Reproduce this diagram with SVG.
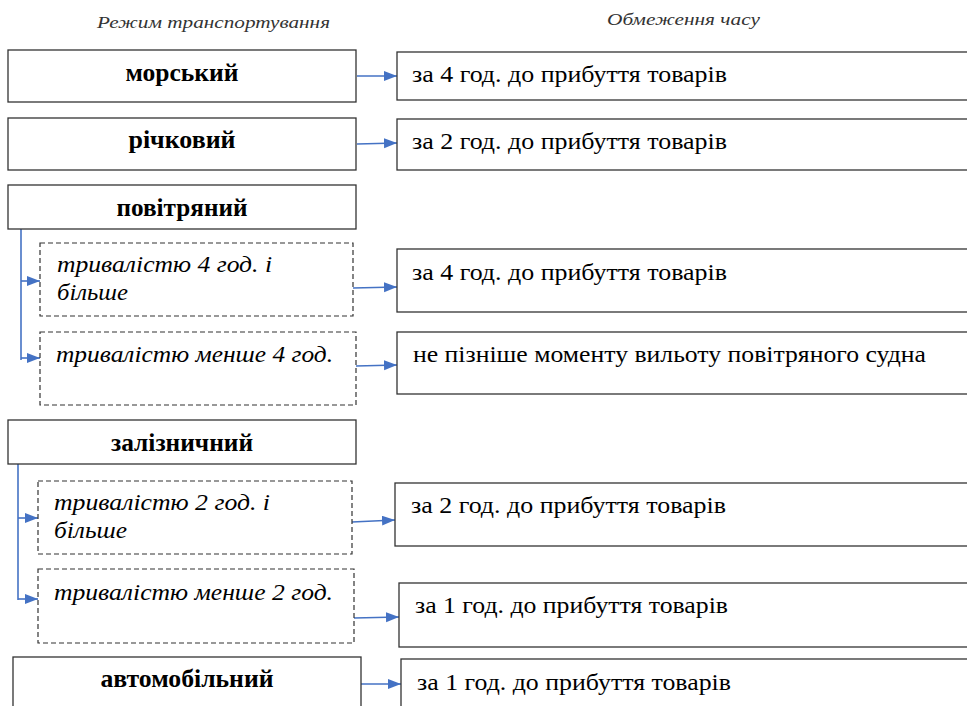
<svg xmlns="http://www.w3.org/2000/svg" width="967" height="706" viewBox="0 0 967 706">
<style>
.box{fill:#fff;stroke:#333;stroke-width:1.3}
.dbox{fill:#fff;stroke:#333;stroke-width:1.2;stroke-dasharray:5 3}
.b{font-family:'Liberation Serif','Times New Roman',serif;font-weight:bold;font-size:25px;fill:#000;text-anchor:middle}
.t{font-family:'Liberation Serif','Times New Roman',serif;font-size:23px;fill:#000}
.i{font-family:'Liberation Serif','Times New Roman',serif;font-style:italic;font-size:24px;fill:#000}
.h{font-family:'Liberation Serif','Times New Roman',serif;font-style:italic;font-size:17px;fill:#333}
.c{fill:none;stroke:#4472C4;stroke-width:1.6}
</style>
<defs>
<marker id="ah" markerUnits="userSpaceOnUse" markerWidth="14" markerHeight="12" refX="13" refY="5" orient="auto">
<path d="M0,0 L13,5 L0,10 Z" fill="#4472C4"/>
</marker>
</defs>
<rect width="967" height="706" fill="#fff"/>
<g id="headers">
<text class="h" x="97" y="28" textLength="233" lengthAdjust="spacingAndGlyphs">Режим транспортування</text>
<text class="h" x="607" y="25" textLength="153" lengthAdjust="spacingAndGlyphs">Обмеження часу</text>
</g>
<g id="connectors">
<line class="c" x1="357" y1="76" x2="397" y2="76" marker-end="url(#ah)"/>
<line class="c" x1="357" y1="144" x2="397" y2="143" marker-end="url(#ah)"/>
<polyline class="c" points="21,229 21,360"/>
<line class="c" x1="21" y1="281" x2="40" y2="281" marker-end="url(#ah)"/>
<line class="c" x1="21" y1="358" x2="40" y2="358" marker-end="url(#ah)"/>
<line class="c" x1="353" y1="288" x2="397" y2="287" marker-end="url(#ah)"/>
<line class="c" x1="356" y1="366" x2="397" y2="365" marker-end="url(#ah)"/>
<polyline class="c" points="18,464 18,600"/>
<line class="c" x1="18" y1="518" x2="38" y2="518" marker-end="url(#ah)"/>
<line class="c" x1="18" y1="599" x2="38" y2="599" marker-end="url(#ah)"/>
<line class="c" x1="352" y1="522" x2="395" y2="520" marker-end="url(#ah)"/>
<line class="c" x1="354" y1="618" x2="399" y2="617" marker-end="url(#ah)"/>
<line class="c" x1="361" y1="684" x2="401" y2="684" marker-end="url(#ah)"/>
</g>
<g id="n-morskyi"><rect class="box" x="8" y="50" width="348" height="52"/><text class="b" x="182" y="81" textLength="113" lengthAdjust="spacingAndGlyphs">морський</text></g>
<g id="n-richkovyi"><rect class="box" x="8" y="118" width="348" height="52"/><text class="b" x="182" y="148" textLength="107" lengthAdjust="spacingAndGlyphs">річковий</text></g>
<g id="n-povitrianyi"><rect class="box" x="8" y="185" width="348" height="44"/><text class="b" x="182" y="216" textLength="131" lengthAdjust="spacingAndGlyphs">повітряний</text></g>
<g id="n-air-4plus"><rect class="dbox" x="40" y="243" width="313" height="73"/><text class="i" x="57" y="272" textLength="215" lengthAdjust="spacingAndGlyphs">тривалістю 4 год. і</text><text class="i" x="57" y="300" textLength="71" lengthAdjust="spacingAndGlyphs">більше</text></g>
<g id="n-air-less4"><rect class="dbox" x="40" y="332" width="316" height="73"/><text class="i" x="56" y="362" textLength="277" lengthAdjust="spacingAndGlyphs">тривалістю менше 4 год.</text></g>
<g id="n-zaliznychnyi"><rect class="box" x="8" y="420" width="348" height="44"/><text class="b" x="182" y="451" textLength="142" lengthAdjust="spacingAndGlyphs">залізничний</text></g>
<g id="n-rail-2plus"><rect class="dbox" x="38" y="481" width="314" height="73"/><text class="i" x="54" y="510" textLength="216" lengthAdjust="spacingAndGlyphs">тривалістю 2 год. і</text><text class="i" x="54" y="538" textLength="73" lengthAdjust="spacingAndGlyphs">більше</text></g>
<g id="n-rail-less2"><rect class="dbox" x="38" y="569" width="316" height="74"/><text class="i" x="54" y="600" textLength="279" lengthAdjust="spacingAndGlyphs">тривалістю менше 2 год.</text></g>
<g id="n-avtomobilnyi"><rect class="box" x="13" y="657" width="348" height="60"/><text class="b" x="187" y="687" textLength="173" lengthAdjust="spacingAndGlyphs">автомобільний</text></g>
<g id="r1"><rect class="box" x="397" y="52" width="590" height="48"/><text class="t" x="412" y="82" textLength="315" lengthAdjust="spacingAndGlyphs">за 4 год. до прибуття товарів</text></g>
<g id="r2"><rect class="box" x="397" y="119" width="590" height="51"/><text class="t" x="412" y="149" textLength="315" lengthAdjust="spacingAndGlyphs">за 2 год. до прибуття товарів</text></g>
<g id="r3"><rect class="box" x="397" y="249" width="590" height="63"/><text class="t" x="412" y="280" textLength="315" lengthAdjust="spacingAndGlyphs">за 4 год. до прибуття товарів</text></g>
<g id="r4"><rect class="box" x="397" y="332" width="590" height="62"/><text class="t" x="413" y="362" textLength="513" lengthAdjust="spacingAndGlyphs">не пізніше моменту вильоту повітряного судна</text></g>
<g id="r5"><rect class="box" x="395" y="483" width="590" height="63"/><text class="t" x="411" y="513" textLength="315" lengthAdjust="spacingAndGlyphs">за 2 год. до прибуття товарів</text></g>
<g id="r6"><rect class="box" x="399" y="583" width="590" height="64"/><text class="t" x="415" y="613" textLength="313" lengthAdjust="spacingAndGlyphs">за 1 год. до прибуття товарів</text></g>
<g id="r7"><rect class="box" x="401" y="659" width="590" height="60"/><text class="t" x="417" y="690" textLength="314" lengthAdjust="spacingAndGlyphs">за 1 год. до прибуття товарів</text></g>
</svg>
